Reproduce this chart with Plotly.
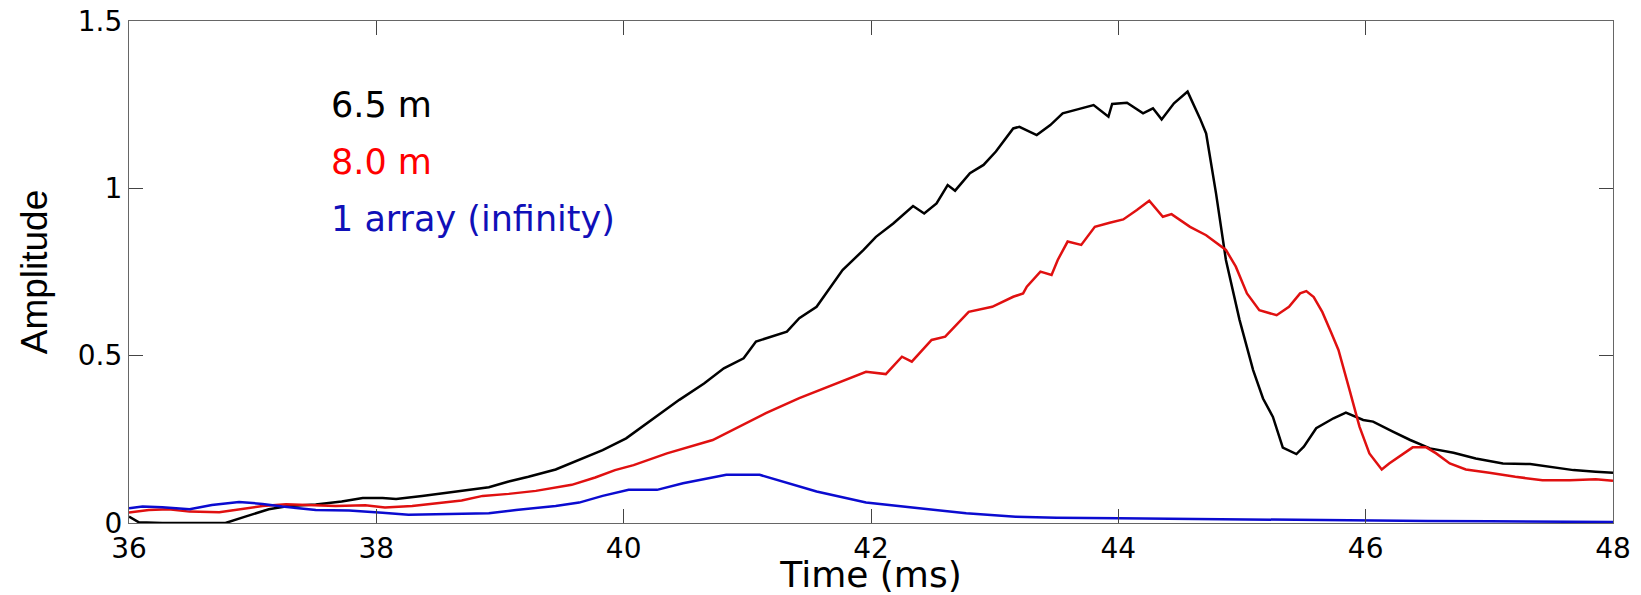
import plotly.graph_objects as go

# ---- data ----
t_65 = [36.0, 36.08, 36.27, 36.78, 36.94, 37.13, 37.29, 37.51, 37.72, 37.89, 38.05, 38.16,
        38.37, 38.53, 38.69, 38.91, 39.07, 39.23, 39.45, 39.66, 39.83, 40.02, 40.24, 40.45,
        40.65, 40.81, 40.97, 41.07, 41.32, 41.42, 41.56, 41.69, 41.77, 41.94, 42.04, 42.18,
        42.34, 42.43, 42.53, 42.62, 42.68, 42.80, 42.91, 43.01, 43.04, 43.15, 43.20, 43.34,
        43.45, 43.55, 43.67, 43.80, 43.92, 43.95, 44.07, 44.20, 44.28, 44.35, 44.45, 44.56,
        44.66, 44.71, 44.79, 44.87, 44.98, 45.09, 45.17, 45.25, 45.33, 45.44, 45.50, 45.60,
        45.74, 45.84, 45.98, 46.06, 46.22, 46.36, 46.52, 46.71, 46.89, 47.11, 47.33, 47.54,
        47.68, 47.86, 48.0]
a_65 = [0.019, 0.002, 0.0, 0.0, 0.019, 0.041, 0.051, 0.055, 0.064, 0.075, 0.075, 0.072,
        0.081, 0.089, 0.096, 0.107, 0.124, 0.138, 0.160, 0.193, 0.218, 0.253, 0.313, 0.368,
        0.417, 0.462, 0.492, 0.542, 0.572, 0.612, 0.646, 0.716, 0.756, 0.816, 0.855, 0.895,
        0.947, 0.925, 0.955, 1.010, 0.993, 1.045, 1.070, 1.110, 1.124, 1.179, 1.184, 1.159,
        1.189, 1.224, 1.236, 1.249, 1.214, 1.252, 1.256, 1.224, 1.239, 1.206, 1.254, 1.289,
        1.209, 1.164, 0.985, 0.786, 0.607, 0.457, 0.372, 0.317, 0.225, 0.206, 0.228, 0.283,
        0.313, 0.330, 0.308, 0.303, 0.273, 0.248, 0.223, 0.210, 0.193, 0.178, 0.176, 0.166,
        0.158, 0.153, 0.150]

t_80 = [36.0, 36.16, 36.32, 36.49, 36.73, 36.89, 37.08, 37.27, 37.46, 37.67, 37.91, 38.07,
        38.29, 38.48, 38.69, 38.86, 39.07, 39.29, 39.58, 39.77, 39.93, 40.08, 40.35, 40.72,
        40.94, 41.15, 41.42, 41.69, 41.96, 42.12, 42.25, 42.33, 42.49, 42.60, 42.79, 42.98,
        43.04, 43.15, 43.23, 43.26, 43.37, 43.46, 43.51, 43.59, 43.70, 43.81, 43.93, 44.04,
        44.15, 44.25, 44.36, 44.43, 44.58, 44.71, 44.87, 44.95, 45.04, 45.14, 45.28, 45.38,
        45.47, 45.52, 45.58, 45.65, 45.72, 45.78, 45.87, 45.95, 46.03, 46.13, 46.19, 46.27,
        46.38, 46.49, 46.57, 46.68, 46.81, 47.0, 47.21, 47.43, 47.65, 47.86, 48.0]
a_80 = [0.031, 0.039, 0.041, 0.034, 0.032, 0.041, 0.051, 0.056, 0.054, 0.051, 0.053, 0.046,
        0.051, 0.059, 0.067, 0.081, 0.087, 0.096, 0.114, 0.136, 0.158, 0.173, 0.208, 0.248,
        0.288, 0.328, 0.373, 0.413, 0.452, 0.445, 0.497, 0.482, 0.547, 0.557, 0.631, 0.646,
        0.656, 0.676, 0.686, 0.706, 0.751, 0.741, 0.786, 0.841, 0.831, 0.885, 0.897, 0.907,
        0.935, 0.963, 0.915, 0.923, 0.885, 0.860, 0.816, 0.766, 0.686, 0.636, 0.621, 0.646,
        0.686, 0.693, 0.675, 0.630, 0.570, 0.517, 0.397, 0.288, 0.208, 0.160, 0.178, 0.198,
        0.226, 0.226, 0.208, 0.178, 0.160, 0.150, 0.138, 0.128, 0.128, 0.131, 0.126]

t_inf = [36.0, 36.11, 36.27, 36.49, 36.67, 36.89, 37.08, 37.24, 37.51, 37.78, 38.05, 38.26,
         38.59, 38.91, 39.13, 39.45, 39.64, 39.83, 40.04, 40.27, 40.48, 40.83, 41.10, 41.32,
         41.56, 41.96, 42.37, 42.77, 43.17, 43.5, 44.0, 44.5, 45.0, 45.5, 46.0, 46.5, 47.0,
         47.5, 48.0]
a_inf = [0.044, 0.049, 0.047, 0.041, 0.054, 0.063, 0.057, 0.049, 0.039, 0.037, 0.031, 0.025,
         0.027, 0.029, 0.039, 0.051, 0.061, 0.081, 0.099, 0.099, 0.119, 0.144, 0.144, 0.119,
         0.094, 0.061, 0.044, 0.029, 0.019, 0.016, 0.014, 0.012, 0.010, 0.009, 0.007, 0.006,
         0.005, 0.004, 0.003]

series_names = ["6.5 m", "8.0 m", "1 array (infinity)"]
line_colors = ["#000000", "#e01010", "#0b0bd0"]
label_colors = ["#000000", "#ff0000", "#1010b8"]

x_ticks = [36, 38, 40, 42, 44, 46, 48]
y_ticks = [0, 0.5, 1, 1.5]
y_tick_labels = ["0", "0.5", "1", "1.5"]

# ---- figure ----
fig = go.Figure()
for t, a, name, col in zip([t_65, t_80, t_inf], [a_65, a_80, a_inf], series_names, line_colors):
    fig.add_trace(go.Scatter(x=t, y=a, mode="lines", name=name,
                             line=dict(color=col, width=2.5), showlegend=False))

# text labels standing in for the legend
label_y = [1.250, 1.080, 0.907]
for name, col, yv in zip(series_names, label_colors, label_y):
    fig.add_annotation(x=37.62, y=yv, xref="x", yref="y", text=name, showarrow=False,
                       xanchor="left", yanchor="middle",
                       font=dict(family="DejaVu Sans", size=35, color=col))

axis_common = dict(showline=True, linecolor="#666666", linewidth=1.3, mirror="ticks",
                   ticks="inside", ticklen=14, tickwidth=1, tickcolor="#444444",
                   showgrid=False, zeroline=False,
                   tickfont=dict(family="DejaVu Sans", size=28, color="#000000"))

fig.update_xaxes(range=[36, 48], tickvals=x_ticks, ticktext=[str(v) for v in x_ticks],
                 title=dict(text="Time (ms)", standoff=9,
                            font=dict(family="DejaVu Sans", size=36, color="#000000")),
                 **axis_common)
fig.update_yaxes(range=[0, 1.5], tickvals=y_ticks, ticktext=y_tick_labels,
                 title=dict(text="Amplitude", standoff=18,
                            font=dict(family="Liberation Sans", size=37, color="#000000")),
                 **axis_common)

fig.update_layout(width=1641, height=595, margin=dict(l=129, r=28, t=21, b=72, autoexpand=False),
                  plot_bgcolor="white", paper_bgcolor="white")

fig.write_html("out.html")
